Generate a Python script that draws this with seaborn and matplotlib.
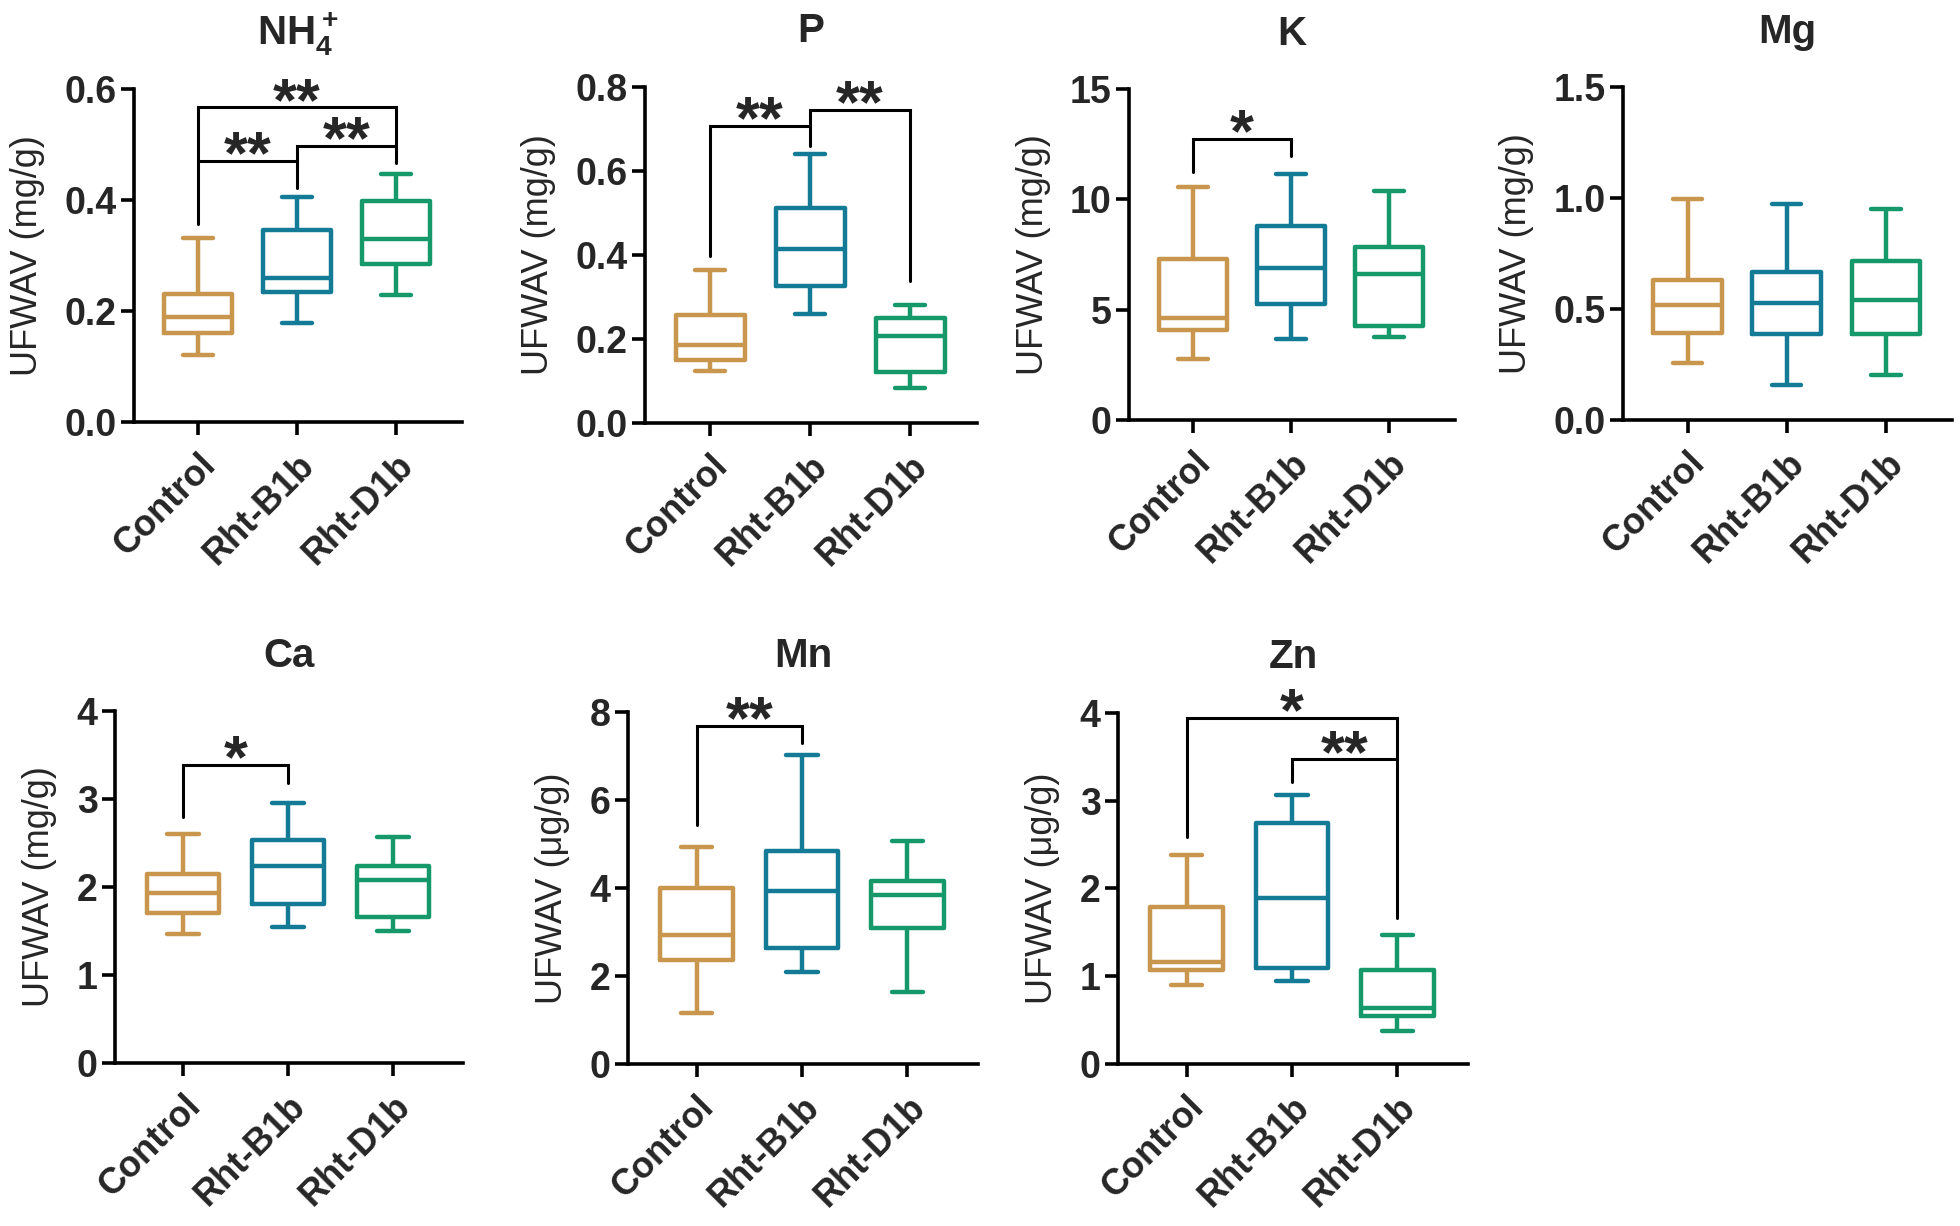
import numpy as np
import pandas as pd
import matplotlib
matplotlib.use("Agg")
import matplotlib.pyplot as plt
import matplotlib.transforms as mtransforms
import seaborn as sns

# ---------------- data ----------------
groups = ["Control", "Rht-B1b", "Rht-D1b"]
palette = ["#C9964E", "#137B96", "#15996B"]

# five-number summaries per group: (min, Q1, median, Q3, max)
nh4 = [[0.121, 0.161, 0.190, 0.230, 0.332],
       [0.178, 0.234, 0.259, 0.346, 0.406],
       [0.229, 0.285, 0.330, 0.399, 0.447]]
p_el = [[0.123, 0.149, 0.185, 0.257, 0.363],
        [0.260, 0.325, 0.414, 0.512, 0.641],
        [0.083, 0.121, 0.208, 0.251, 0.281]]
k_el = [[2.78, 4.08, 4.64, 7.31, 10.55],
        [3.67, 5.24, 6.91, 8.77, 11.17],
        [3.75, 4.24, 6.62, 7.83, 10.39]]
mg = [[0.257, 0.391, 0.516, 0.629, 0.994],
      [0.158, 0.387, 0.527, 0.667, 0.973],
      [0.201, 0.387, 0.539, 0.717, 0.950]]
ca = [[1.463, 1.699, 1.930, 2.143, 2.605],
      [1.545, 1.803, 2.233, 2.528, 2.958],
      [1.495, 1.658, 2.084, 2.242, 2.573]]
mn = [[1.16, 2.36, 2.92, 3.99, 4.92],
      [2.08, 2.63, 3.92, 4.85, 7.02],
      [1.63, 3.10, 3.85, 4.15, 5.06]]
zn = [[0.895, 1.068, 1.16, 1.786, 2.386],
      [0.945, 1.09, 1.886, 2.75, 3.07],
      [0.373, 0.545, 0.636, 1.068, 1.464]]

# significance brackets: (group i, group j, bar height, left leg end, right leg end, label)
nh4_sig = [(0, 2, 0.567, 0.357, 0.467, "**"),
           (0, 1, 0.470, 0.470, 0.422, "**"),
           (1, 2, 0.498, 0.470, 0.498, "**")]
p_sig = [(0, 1, 0.707, 0.397, 0.660, "**"),
         (1, 2, 0.745, 0.707, 0.338, "**")]
k_sig = [(0, 1, 12.73, 11.23, 11.97, "*")]
mg_sig = []
ca_sig = [(0, 1, 3.39, 2.80, 3.18, "*")]
mn_sig = [(0, 1, 7.68, 5.44, 7.29, "**")]
zn_sig = [(0, 2, 3.94, 2.59, 1.66, "*"),
          (1, 2, 3.47, 3.21, 3.47, "**")]

titles = [r"$\mathbf{NH_4^+}$", "P", "K", "Mg", "Ca", "Mn", "Zn"]
ylabels = ["UFWAV (mg/g)"] * 5 + ["UFWAV (μg/g)"] * 2
yticks = [[0.0, 0.2, 0.4, 0.6], [0.0, 0.2, 0.4, 0.6, 0.8], [0, 5, 10, 15],
          [0.0, 0.5, 1.0, 1.5], [0, 1, 2, 3, 4], [0, 2, 4, 6, 8], [0, 1, 2, 3, 4]]
yticklabels = [["0.0", "0.2", "0.4", "0.6"], ["0.0", "0.2", "0.4", "0.6", "0.8"],
               ["0", "5", "10", "15"], ["0.0", "0.5", "1.0", "1.5"],
               ["0", "1", "2", "3", "4"], ["0", "2", "4", "6", "8"],
               ["0", "1", "2", "3", "4"]]
all_stats = [nh4, p_el, k_el, mg, ca, mn, zn]
all_sig = [nh4_sig, p_sig, k_sig, mg_sig, ca_sig, mn_sig, zn_sig]

# ---------------- style ----------------
sns.set_style("ticks")
plt.rcParams["font.family"] = ["Liberation Sans", "DejaVu Sans"]
plt.rcParams["mathtext.fontset"] = "custom"
plt.rcParams["mathtext.rm"] = "Liberation Sans"
plt.rcParams["mathtext.bf"] = "Liberation Sans:bold"
plt.rcParams["axes.edgecolor"] = "black"

fig = plt.figure(figsize=(9.8, 6.13), dpi=200)

# axes rectangles (left, bottom, width, height) in figure fraction
rects = [(0.0684, 0.6558, 0.1673, 0.2716),
         (0.3291, 0.6550, 0.1694, 0.2741),
         (0.5760, 0.6574, 0.1663, 0.2700),
         (0.8281, 0.6574, 0.1679, 0.2716),
         (0.0587, 0.1330, 0.1776, 0.2871),
         (0.3204, 0.1322, 0.1786, 0.2871),
         (0.5704, 0.1322, 0.1786, 0.2863)]


def frame(stats):
    rows = []
    for g, vals in zip(groups, stats):
        for v in vals:
            rows.append((g, v))
    return pd.DataFrame(rows, columns=["group", "value"])


shift = mtransforms.ScaledTranslation(0.5 / 72, 0, fig.dpi_scale_trans)

for idx in range(7):
    ax = fig.add_axes(rects[idx])
    df = frame(all_stats[idx])
    box_kws = dict(data=df, x="group", y="value", hue="group", order=groups,
                   hue_order=groups, palette=palette, fill=False, width=0.69,
                   linewidth=1.6, whis=(0, 100), showfliers=False,
                   legend=False, ax=ax)
    try:
        sns.boxplot(capwidths=0.30, **box_kws)
    except TypeError:
        ax.cla()
        sns.boxplot(**box_kws)
    ax.set_xlim(-0.65, 2.67)
    ax.set_ylim(yticks[idx][0], yticks[idx][-1])
    ax.set_yticks(yticks[idx], labels=yticklabels[idx], fontweight="bold")
    ax.set_xticks(range(3))
    ax.set_xticklabels(groups, rotation=45, ha="right", va="top",
                       rotation_mode="anchor", fontweight="bold")
    for lab in ax.get_xticklabels():
        lab.set_transform(lab.get_transform() + shift)
    ax.tick_params(axis="both", direction="out", length=4.7, width=1.3,
                   labelsize=13.5, color="black")
    ax.tick_params(axis="y", pad=1.5)
    ax.tick_params(axis="x", pad=4.5, labelsize=13)
    ax.set_xlabel("")
    ax.set_ylabel(ylabels[idx], fontsize=13, labelpad=7)
    ax.set_title(titles[idx], fontsize=14.5, fontweight="bold", pad=16)
    sns.despine(ax=ax)
    for sp in ax.spines.values():
        sp.set_linewidth(1.3)
        sp.set_capstyle("projecting")

    for (i, j, yb, yl, yr, lab) in all_sig[idx]:
        ax.plot([i, i, j, j], [yl, yb, yb, yr], color="black", lw=1.1,
                clip_on=False, solid_joinstyle="miter")
        ax.annotate(lab, xy=((i + j) / 2, yb), xytext=(0, -4.5),
                    textcoords="offset points", ha="center", va="baseline",
                    fontsize=22, fontweight="bold", annotation_clip=False)

fig.savefig("out.png", dpi=200, facecolor="white")
